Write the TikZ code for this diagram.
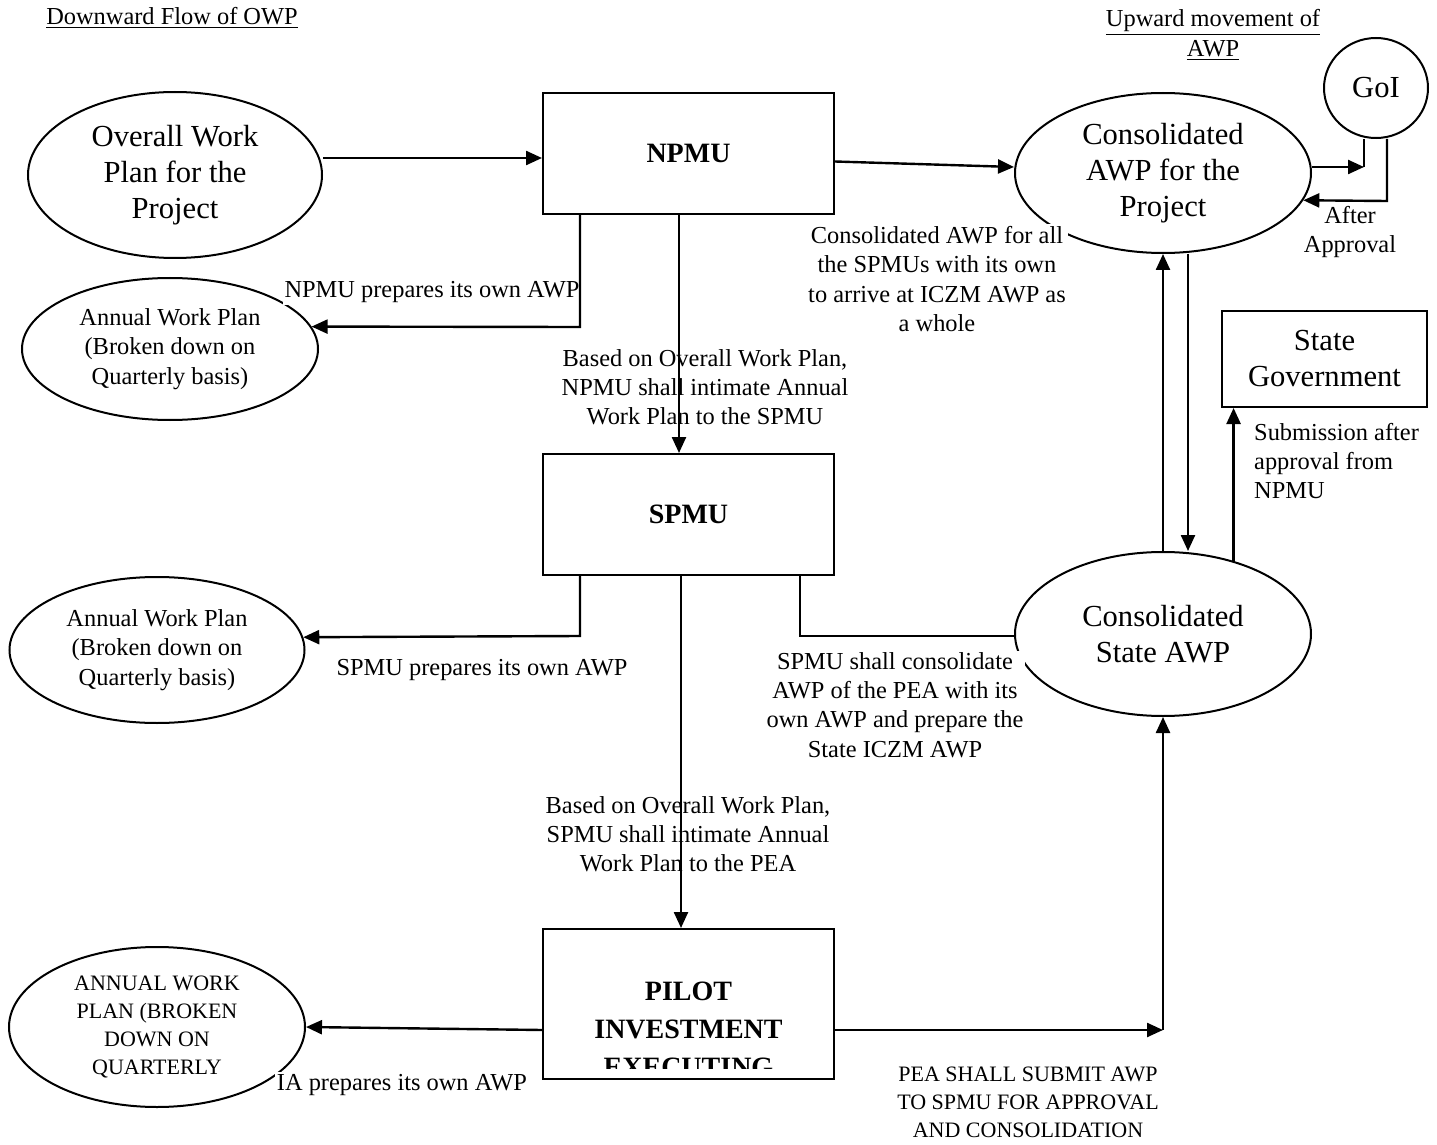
\documentclass[tikz,border=0pt]{standalone}
\usepackage{fontspec}
\setmainfont{Liberation Serif}
\usetikzlibrary{shapes.geometric,arrows.meta}

\newcommand{\lblfont}{\fontsize{12.2pt}{14.6pt}\selectfont}
\newcommand{\bigfont}{\fontsize{15.3pt}{18pt}\selectfont}
\newcommand{\capsfont}{\fontsize{11pt}{14pt}\selectfont}
\newcommand{\boxfont}{\fontsize{14pt}{19pt}\selectfont\bfseries}

\begin{document}
\begin{tikzpicture}[x=0.5pt, y=-0.5pt, >={Triangle[length=8pt,width=7pt]}, line width=1.2pt]
\tikzstyle{oval}=[ellipse, draw, line width=1pt, inner sep=0pt, align=center]
\tikzstyle{unit}=[rectangle, draw, line width=1pt, minimum width=145.5pt, align=center]
\tikzstyle{lbl}=[font=\lblfont, align=center, inner sep=1pt]
\tikzstyle{cover}=[lbl, fill=white]
\useasboundingbox (0,0) rectangle (1437,1145);

% headings
\node[lbl] (hdown) at (172,18) {\underline{Downward Flow of OWP}};
\node[lbl] (hup)   at (1213,35) {\underline{Upward movement of}\\\underline{AWP}};

% boxes and ovals
\node[oval, minimum width=147pt, minimum height=83pt, font=\bigfont] (owp) at (175,175) {Overall Work\\Plan for the\\Project};
\node[unit, minimum height=60.5pt, font=\boxfont] (npmu) at (688.5,153.5) {NPMU};
\node[oval, minimum width=148pt, minimum height=80pt, font=\bigfont] (cawp) at (1163,173) {Consolidated\\AWP for the\\Project};
\node[oval, minimum width=52pt, minimum height=50pt, font=\bigfont] (goi) at (1376,88) {GoI};
\node[oval, minimum width=148pt, minimum height=71pt, font=\lblfont] (awpn) at (170,349) {Annual Work Plan\\(Broken down on\\Quarterly basis)};
\node[unit, minimum height=60.5pt, font=\boxfont] (spmu) at (688.5,514.5) {SPMU};
\node[oval, minimum width=147.5pt, minimum height=73pt, font=\lblfont] (awps) at (157,650) {Annual Work Plan\\(Broken down on\\Quarterly basis)};
\node[oval, minimum width=148pt, minimum height=82pt, font=\bigfont] (csawp) at (1163,634) {Consolidated\\State AWP};
\node[rectangle, draw, line width=1pt, minimum width=102.5pt, minimum height=48pt, align=center, font=\bigfont] (stgov) at (1324.5,359) {State\\Government};
\node[unit, minimum height=75pt, path picture={
  \clip ([yshift=5.5pt]path picture bounding box.south west) rectangle (path picture bounding box.north east);
  \node[font=\boxfont, align=center] at ([yshift=-12.5pt]path picture bounding box.center) {PILOT\\INVESTMENT\\EXECUTING};
}] (pea) at (688.5,1004) {};
\node[oval, minimum width=148pt, minimum height=80pt, font=\capsfont] (awpi) at (157,1027) {ANNUAL WORK\\PLAN (BROKEN\\DOWN ON\\QUARTERLY};

% labels
\node[lbl] (lgoi) at (1350,232) {After\\Approval};
\node[cover] (lcawp) at (937,279) {Consolidated AWP for all\\the SPMUs with its own\\to arrive at ICZM AWP as\\a whole};
\node[cover] (lnown) at (432,292) {NPMU prepares its own AWP};
\node[lbl] (lnint) at (705,387) {Based on Overall Work Plan,\\NPMU shall intimate Annual\\Work Plan to the SPMU};
\node[lbl] (lsown) at (482,670) {SPMU prepares its own AWP};
\node[cover] (lscon) at (895,705) {SPMU shall consolidate\\AWP of the PEA with its\\own AWP and prepare the\\State ICZM AWP};
\node[lbl, anchor=west, align=left] (lsub) at (1251,461) {Submission after\\approval from\\NPMU};
\node[lbl] (lsint) at (688,834) {Based on Overall Work Plan,\\SPMU shall intimate Annual\\Work Plan to the PEA};
\node[cover] (liown) at (402,1085) {IA prepares its own AWP};
\node[lbl, font=\capsfont] (lpea) at (1028,1102) {PEA SHALL SUBMIT AWP\\TO SPMU FOR APPROVAL\\AND CONSOLIDATION};

% corners
\coordinate (g1) at (1364,167);
\coordinate (g2) at (1387,201);
\coordinate (n1) at (580,327);
\coordinate (s1) at (580,636);
\coordinate (s2) at (800,636);
\coordinate (p1) at (1163,1030);

% connectors
\draw[->] ([yshift=8.5pt]owp.east) -- ([yshift=8.5pt]owp.east -| npmu.west);
\draw[->] ([yshift=-4pt]npmu.east) -- ([yshift=3pt]cawp.west);
\draw[->] ([yshift=3pt]cawp.east) -- (g1);
\draw (g1) -- (g1 |- goi.south);
\draw[->] (g2 |- goi.south) -- (g2) -- (cawp.-11.5);
\draw[->] (npmu.south -| n1) -- (n1) -- (awpn.9);
\draw[->] ([xshift=-4.75pt]npmu.south) -- ([xshift=-4.75pt]spmu.north);
\draw[->] (spmu.south -| s1) -- (s1) -- (awps.5.5);
\draw (spmu.south -| s2) -- (s2) -- (s2 -| csawp.west);
\draw[->] (csawp.north) -- (cawp.south);
\draw[->] ([xshift=12.5pt]cawp.south) -- ([xshift=12.5pt]csawp.north);
\draw[->] (csawp.46.4) -- (csawp.46.4 |- stgov.south);
\draw[->] ([xshift=-3.75pt]spmu.south) -- ([xshift=-3.75pt]pea.north);
\draw[->] ([yshift=-13pt]pea.west) -- (awpi.east);
\draw[->] ([yshift=-13pt]pea.east) -- (p1);
\draw[->] (p1) -- (csawp.south);
\end{tikzpicture}
\end{document}
